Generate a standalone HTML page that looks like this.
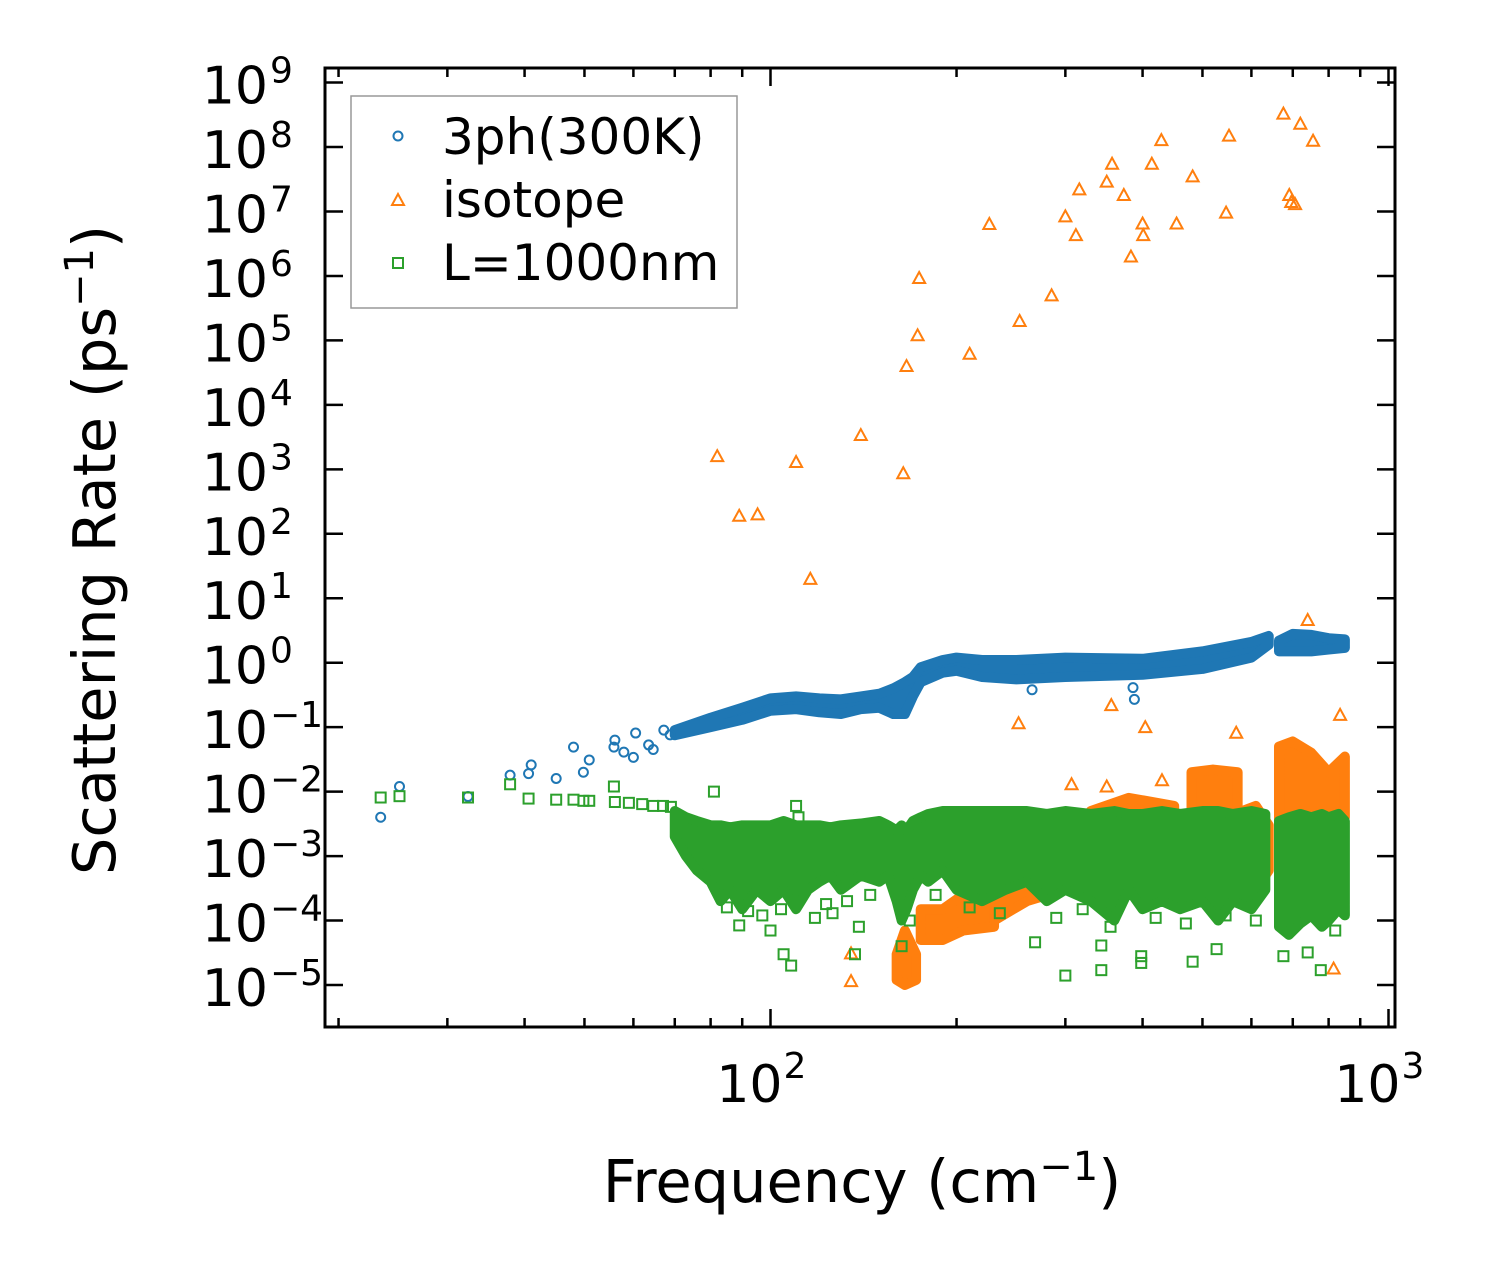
<!DOCTYPE html>
<html><head><meta charset="utf-8"><style>
html,body{margin:0;padding:0;background:#fff}
svg{display:block}
text{font-family:"DejaVu Sans","Liberation Sans",sans-serif;fill:#000}
</style></head><body>
<svg id="chart" width="1498" height="1276" viewBox="0 0 1498 1276" xmlns="http://www.w3.org/2000/svg">
<rect x="0" y="0" width="1498" height="1276" fill="#fff"/>
<g id="bands"></g>
<g id="marks"></g>
<g id="axes"></g>
<g>
<rect x="351" y="96" width="386" height="212" fill="#fff" stroke="#999" stroke-width="1.5"/>
<circle cx="398" cy="136" r="4.5" fill="none" stroke="#1f77b4" stroke-width="2"/>
<text x="442" y="154" font-size="50">3ph(300K)</text>
<polygon points="398,194 404,205 392,205" fill="none" stroke="#ff7f0e" stroke-width="2"/>
<text x="442" y="217" font-size="50">isotope</text>
<rect x="393" y="258" width="10" height="10" fill="none" stroke="#2ca02c" stroke-width="2"/>
<text x="442" y="280" font-size="50">L=1000nm</text>
</g>
<text x="862" y="1202" font-size="59" text-anchor="middle">Frequency (cm<tspan font-size="40" dy="-22">−1</tspan><tspan dy="22">)</tspan></text>
<text transform="translate(115,550) rotate(-90)" font-size="59" text-anchor="middle">Scattering Rate (ps<tspan font-size="40" dy="-22">−1</tspan><tspan dy="22">)</tspan></text>
</svg>
<script>
// ---- data ----
const blueFreq = [23.4,25.1,32.4,37.9,40.6,41,45,48,49.8,50.9,55.8,56,57.9,60,60.5,63.5,64.6,67.2,68.8,265,386,388];
const blueRate = [0.004,0.012,0.0084,0.018,0.019,0.026,0.016,0.049,0.020,0.031,0.049,0.063,0.041,0.034,0.081,0.053,0.045,0.09,0.076,0.38,0.41,0.27];
const blueBandFreq = [70,80,90,100,110,120,130,140,150,158,165,170,175,190,200,220,250,300,400,500,600,640];
const blueBandLow  = [0.075,0.1,0.13,0.18,0.19,0.17,0.16,0.19,0.2,0.16,0.16,0.3,0.5,0.7,0.75,0.6,0.55,0.6,0.65,0.8,1.2,1.9];
const blueBandHigh = [0.09,0.14,0.2,0.28,0.3,0.28,0.27,0.3,0.33,0.4,0.5,0.6,0.85,1.1,1.2,1.1,1.1,1.2,1.15,1.5,2.1,2.6];
const blueBand2Freq = [665,700,750,800,850];
const blueBand2Low  = [1.5,1.5,1.5,1.6,1.7];
const blueBand2High = [2.2,2.8,2.7,2.4,2.3];

const orangeFreq = [82,89,95.3,110,116,140,164,166,173,174,210,226,253,285,300,312,316,350,357,373,383,400,401,414,429,454,482,546,552,676,691,696,706,720,755,740,252,356,404,567,835,135,135,307,350,430,815];
const orangeRate = [1.6e3,1.9e2,2.0e2,1.3e3,20,3.4e3,870,4e4,1.2e5,9.3e5,6.2e4,6.4e6,2e5,5e5,8.4e6,4.3e6,2.2e7,2.9e7,5.5e7,1.8e7,2e6,6.5e6,4.3e6,5.5e7,1.28e8,6.5e6,3.5e7,9.6e6,1.5e8,3.3e8,1.8e7,1.4e7,1.3e7,2.3e8,1.25e8,4.6,0.115,0.22,0.1,0.082,0.155,3.1e-5,1.15e-5,0.013,0.012,0.015,1.8e-5];
const orangeBands = [
  {freq:[160,165,172], low:[1.2e-5,1e-5,1.2e-5], high:[3e-5,7e-5,3e-5]},
  {freq:[175,190,205,230], low:[5e-5,5e-5,7e-5,8e-5], high:[1.5e-4,1.5e-4,2.5e-4,2e-4]},
  {freq:[230,260,330], low:[1e-4,2e-4,4e-4], high:[5e-4,6e-4,1e-3]},
  {freq:[330,380,450], low:[1e-3,1e-3,1e-3], high:[5e-3,8e-3,6e-3]},
  {freq:[480,520,570], low:[1e-3,1e-3,1e-3], high:[2e-2,2.2e-2,2e-2]},
  {freq:[580,610,640], low:[3e-4,3e-4,6e-4], high:[5e-3,6e-3,3e-3]},
  {freq:[665,700,750,800,850], low:[3e-3,3e-3,4e-3,3e-3,4e-3], high:[5e-2,6e-2,4e-2,2e-2,3.5e-2]}
];

const greenFreq = [23.4,25.1,32.4,37.9,40.6,45,48,49.8,50.9,55.8,56,59,62,64.6,67,69,89,100,105,108,126,137,139,163,268,300,343,343,398,398,482,527,676,740,777,820,75,81,110,111,85,92,97,104,118,123,133,145,168,185,210,235,290,320,355,420,470,545,610];
const greenRate = [0.0081,0.0085,0.0081,0.013,0.0078,0.0075,0.0075,0.0072,0.0072,0.012,0.0069,0.0067,0.0064,0.006,0.006,0.0058,8.4e-5,7e-5,3e-5,2e-5,1.3e-4,3e-5,8e-5,4e-5,4.6e-5,1.4e-5,1.7e-5,4.1e-5,2.2e-5,2.8e-5,2.3e-5,3.6e-5,2.8e-5,3.2e-5,1.7e-5,7e-5,1.3e-3,0.01,0.006,0.004,1.6e-4,1.4e-4,1.2e-4,1.5e-4,1.1e-4,1.8e-4,2e-4,2.5e-4,1e-4,2.5e-4,1.6e-4,1.3e-4,1.1e-4,1.5e-4,8e-5,1.1e-4,9e-5,1.2e-4,1e-4];
const greenBandFreq = [70,73,76,80,83,86,90,95,100,105,110,115,120,125,130,140,150,155,160,163,166,170,175,180,190,200,220,240,260,280,300,330,360,380,400,430,460,500,530,560,600,632];
const greenBandLow  = [2e-3,1e-3,6e-4,4e-4,2e-4,3e-4,1.5e-4,3e-4,2e-4,3e-4,1.5e-4,3e-4,4e-4,5e-4,3e-4,5e-4,4e-4,5e-4,2e-4,1e-4,1.5e-4,3e-4,5e-4,4e-4,6e-4,3e-4,2e-4,3e-4,4e-4,2e-4,3e-4,2e-4,1e-4,3e-4,1.5e-4,2e-4,1.5e-4,2e-4,1e-4,2e-4,1.5e-4,3e-4];
const greenBandHigh = [5e-3,4e-3,3.5e-3,3e-3,3e-3,2.8e-3,3e-3,3e-3,3e-3,3.5e-3,3e-3,3e-3,3e-3,2.8e-3,3e-3,3.2e-3,3.5e-3,3e-3,2.5e-3,3e-3,2.5e-3,3.5e-3,4e-3,4.5e-3,5e-3,5e-3,5e-3,5e-3,5e-3,4.5e-3,5e-3,4.5e-3,5e-3,4.5e-3,4.5e-3,5e-3,4.5e-3,5e-3,5e-3,4.5e-3,5e-3,4.5e-3];
const greenBand2Freq = [665,690,720,750,780,800,830,850];
const greenBand2Low  = [8e-5,6e-5,9e-5,1.2e-4,8e-5,1e-4,1.5e-4,1.2e-4];
const greenBand2High = [3.5e-3,4e-3,4.5e-3,4e-3,4.5e-3,4e-3,4.5e-3,3.5e-3];

const yTickExp = [9,8,7,6,5,4,3,2,1,0,-1,-2,-3,-4,-5];
const xTickExp = [2,3];

// ---- axes ----
const NS='http://www.w3.org/2000/svg';
const X0=325,X1=1395,Y0=68,Y1=1027;
function xs(f){return 770.5+618*(Math.log10(f)-2);}
function ys(v){return 985-(Math.log10(v)+5)*64.46;}
function mk(tag,attrs,parent){const e=document.createElementNS(NS,tag);for(const k in attrs)e.setAttribute(k,attrs[k]);parent.appendChild(e);return e;}
const bands=document.getElementById('bands'),marks=document.getElementById('marks'),axes=document.getElementById('axes');

function band(freq,low,high,color,name){
  const pts=[];
  for(let i=0;i<freq.length;i++)pts.push(xs(freq[i])+','+ys(high[i]));
  for(let i=freq.length-1;i>=0;i--)pts.push(xs(freq[i])+','+ys(low[i]));
  const p=mk('polygon',{points:pts.join(' '),fill:color,stroke:color,'stroke-width':10,'stroke-linejoin':'round'},bands);
  
  
}
band(blueBandFreq,blueBandLow,blueBandHigh,'#1f77b4','3ph-dense-band');
band(blueBand2Freq,blueBand2Low,blueBand2High,'#1f77b4','3ph-dense-band-high');
orangeBands.forEach(b=>band(b.freq,b.low,b.high,'#ff7f0e','isotope-dense-band'));
band(greenBandFreq,greenBandLow,greenBandHigh,'#2ca02c','boundary-dense-band');
band(greenBand2Freq,greenBand2Low,greenBand2High,'#2ca02c','boundary-dense-band-high');

for(let i=0;i<blueFreq.length;i++){
  const c=mk('circle',{cx:xs(blueFreq[i]),cy:ys(blueRate[i]),r:4.5,fill:'none',stroke:'#1f77b4','stroke-width':2},marks);
  
  
}
for(let i=0;i<orangeFreq.length;i++){
  const x=xs(orangeFreq[i]),y=ys(orangeRate[i]);
  const t=mk('polygon',{points:`${x},${y-6} ${x+6},${y+5} ${x-6},${y+5}`,fill:'none',stroke:'#ff7f0e','stroke-width':2},marks);
  
  
}
for(let i=0;i<greenFreq.length;i++){
  const s=mk('rect',{x:xs(greenFreq[i])-5,y:ys(greenRate[i])-5,width:10,height:10,fill:'none',stroke:'#2ca02c','stroke-width':2},marks);
  
  
}
// frame
const fr=mk('rect',{x:X0,y:Y0,width:X1-X0,height:Y1-Y0,fill:'none',stroke:'#000','stroke-width':3},axes);


// y ticks
yTickExp.forEach(e=>{
  const y=ys(Math.pow(10,e));
  mk('line',{x1:X0,x2:X0+18,y1:y,y2:y,stroke:'#000','stroke-width':2.5},axes);
  mk('line',{x1:X1,x2:X1-18,y1:y,y2:y,stroke:'#000','stroke-width':2.5},axes);
  const t=mk('text',{x:268,y:y+21,'font-size':52,'text-anchor':'end'},axes);
  t.textContent='10';
  
  
  const s=mk('text',{x:270,y:y,'font-size':36,'text-anchor':'start'},axes);
  s.textContent=(e<0?'−':'')+Math.abs(e);
  
  
});
// x ticks
for(let d=1;d<=2;d++){
  for(let m=1;m<=9;m++){
    const f=m*Math.pow(10,d);const x=xs(f);
    if(x<X0||x>X1)continue;
    const L=m===1?18:9;
    mk('line',{x1:x,x2:x,y1:Y1,y2:Y1-L,stroke:'#000','stroke-width':2.5},axes);
    mk('line',{x1:x,x2:x,y1:Y0,y2:Y0+L,stroke:'#000','stroke-width':2.5},axes);
  }
}
{const x=xs(1000);mk('line',{x1:x,x2:x,y1:Y1,y2:Y1-18,stroke:'#000','stroke-width':2.5},axes);mk('line',{x1:x,x2:x,y1:Y0,y2:Y0+18,stroke:'#000','stroke-width':2.5},axes);}
xTickExp.forEach(e=>{
  const x=xs(Math.pow(10,e));
  const t=mk('text',{x:x+12,y:1102,'font-size':52,'text-anchor':'end'},axes);
  t.textContent='10';
  
  
  const s=mk('text',{x:x+13,y:1078,'font-size':36},axes);
  s.textContent=String(e);
  
  
});
</script>
</body></html>
